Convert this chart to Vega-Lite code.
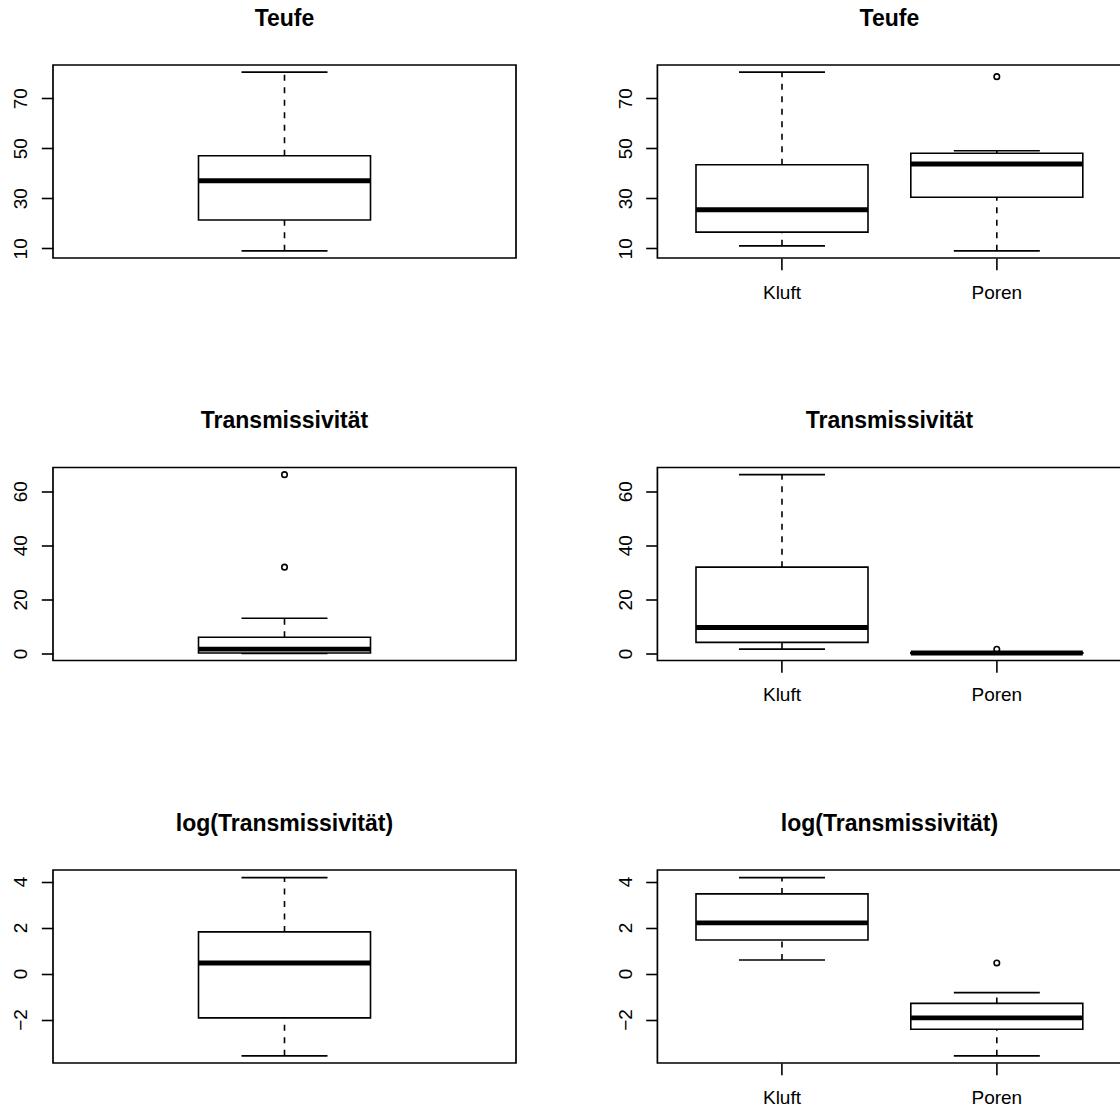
{
  "$schema": "https://vega.github.io/schema/vega-lite/v6.json",
  "background": "white",
  "padding": {"left": 10, "top": 6, "right": 5, "bottom": 5},
  "datasets": {
    "kennwerte": [
      {"groesse": "Teufe", "typ": "alle", "lo": 9, "q1": 21.3, "med": 37, "q3": 47, "hi": 80.4},
      {"groesse": "Teufe", "typ": "Kluft", "lo": 11, "q1": 16.5, "med": 25.4, "q3": 43.4, "hi": 80.4},
      {"groesse": "Teufe", "typ": "Poren", "lo": 9, "q1": 30.4, "med": 43.7, "q3": 48, "hi": 49},
      {"groesse": "T", "typ": "alle", "lo": 0.03, "q1": 0.14, "med": 1.6, "q3": 6.0, "hi": 13.0},
      {"groesse": "T", "typ": "Kluft", "lo": 1.6, "q1": 4.1, "med": 9.6, "q3": 31.9, "hi": 66.1},
      {"groesse": "T", "typ": "Poren", "lo": 0.03, "q1": 0.09, "med": 0.145, "q3": 0.27, "hi": 0.44},
      {"groesse": "logT", "typ": "alle", "lo": -3.58, "q1": -1.93, "med": 0.46, "q3": 1.81, "hi": 4.17},
      {"groesse": "logT", "typ": "Kluft", "lo": 0.59, "q1": 1.46, "med": 2.2, "q3": 3.46, "hi": 4.17},
      {"groesse": "logT", "typ": "Poren", "lo": -3.58, "q1": -2.42, "med": -1.93, "q3": -1.3, "hi": -0.83}
    ],
    "ausreisser": [
      {"groesse": "Teufe", "typ": "Poren", "wert": 78.6},
      {"groesse": "T", "typ": "alle", "wert": 31.9},
      {"groesse": "T", "typ": "alle", "wert": 66.1},
      {"groesse": "T", "typ": "Poren", "wert": 1.55},
      {"groesse": "logT", "typ": "Poren", "wert": 0.46}
    ]
  },
  "columns": 2,
  "bounds": "flush",
  "spacing": {"row": 209.5, "column": 141.4},
  "concat": [
    {
      "title": "Teufe",
      "width": 463, "height": 193,
      "data": {"name": "kennwerte"},
      "transform": [{"filter": "datum.groesse == 'Teufe' && datum.typ == 'alle'"}],
      "encoding": {"x": {"field": "typ", "type": "nominal", "axis": null, "scale": {"paddingInner": 0.2, "paddingOuter": 0.18}}},
      "layer": [
        {"mark": {"type": "rule", "color": "black", "strokeWidth": 1.6, "strokeDash": [6, 6.5]},
         "encoding": {"y": {"field": "q3", "type": "quantitative", "title": null,
            "scale": {"domain": [6.144, 83.256], "nice": false, "zero": false},
            "axis": {"values": [10, 20, 30, 40, 50, 60, 70, 80], "labelExpr": "datum.value % 20 == 10 ? datum.label : ''"}},
           "y2": {"field": "hi"}}},
        {"mark": {"type": "rule", "color": "black", "strokeWidth": 1.6, "strokeDash": [6, 6.5]},
         "encoding": {"y": {"field": "lo", "type": "quantitative", "title": null}, "y2": {"field": "q1"}}},
        {"mark": {"type": "tick", "color": "black", "opacity": 1, "size": 86, "thickness": 1.6},
         "encoding": {"y": {"field": "hi", "type": "quantitative", "title": null}}},
        {"mark": {"type": "tick", "color": "black", "opacity": 1, "size": 86, "thickness": 1.6},
         "encoding": {"y": {"field": "lo", "type": "quantitative", "title": null}}},
        {"mark": {"type": "bar", "width": 172, "fill": "white", "stroke": "black", "strokeWidth": 1.6},
         "encoding": {"y": {"field": "q1", "type": "quantitative", "title": null}, "y2": {"field": "q3"}}},
        {"mark": {"type": "tick", "color": "black", "opacity": 1, "size": 172, "thickness": 4.9},
         "encoding": {"y": {"field": "med", "type": "quantitative", "title": null}}}
      ]
    },
    {
      "title": "Teufe",
      "width": 464, "height": 193,
      "data": {"name": "kennwerte"},
      "transform": [{"filter": "datum.groesse == 'Teufe' && datum.typ != 'alle'"}],
      "encoding": {"x": {"field": "typ", "type": "nominal", "title": null, "scale": {"paddingInner": 0.2, "paddingOuter": 0.18},
        "axis": {"labelAngle": 0, "labelBaseline": "alphabetic", "labelPadding": 28.3}}},
      "layer": [
        {"mark": {"type": "rule", "color": "black", "strokeWidth": 1.6, "strokeDash": [6, 6.5]},
         "encoding": {"y": {"field": "q3", "type": "quantitative", "title": null,
            "scale": {"domain": [6.144, 83.256], "nice": false, "zero": false},
            "axis": {"values": [10, 20, 30, 40, 50, 60, 70, 80], "labelExpr": "datum.value % 20 == 10 ? datum.label : ''"}},
           "y2": {"field": "hi"}}},
        {"mark": {"type": "rule", "color": "black", "strokeWidth": 1.6, "strokeDash": [6, 6.5]},
         "encoding": {"y": {"field": "lo", "type": "quantitative", "title": null}, "y2": {"field": "q1"}}},
        {"mark": {"type": "tick", "color": "black", "opacity": 1, "size": 86, "thickness": 1.6},
         "encoding": {"y": {"field": "hi", "type": "quantitative", "title": null}}},
        {"mark": {"type": "tick", "color": "black", "opacity": 1, "size": 86, "thickness": 1.6},
         "encoding": {"y": {"field": "lo", "type": "quantitative", "title": null}}},
        {"mark": {"type": "bar", "width": 172, "fill": "white", "stroke": "black", "strokeWidth": 1.6},
         "encoding": {"y": {"field": "q1", "type": "quantitative", "title": null}, "y2": {"field": "q3"}}},
        {"mark": {"type": "tick", "color": "black", "opacity": 1, "size": 172, "thickness": 4.9},
         "encoding": {"y": {"field": "med", "type": "quantitative", "title": null}}},
        {"data": {"name": "ausreisser"},
         "transform": [{"filter": "datum.groesse == 'Teufe' && datum.typ != 'alle'"}],
         "mark": {"type": "point", "shape": "circle", "filled": false, "color": "black", "size": 30, "strokeWidth": 1.6, "opacity": 1},
         "encoding": {"y": {"field": "wert", "type": "quantitative", "title": null}}}
      ]
    },
    {
      "title": "Transmissivität",
      "width": 463, "height": 193,
      "data": {"name": "kennwerte"},
      "transform": [{"filter": "datum.groesse == 'T' && datum.typ == 'alle'"}],
      "encoding": {"x": {"field": "typ", "type": "nominal", "axis": null, "scale": {"paddingInner": 0.2, "paddingOuter": 0.18}}},
      "layer": [
        {"mark": {"type": "rule", "color": "black", "strokeWidth": 1.6, "strokeDash": [6, 6.5]},
         "encoding": {"y": {"field": "q3", "type": "quantitative", "title": null,
            "scale": {"domain": [-2.615, 68.74], "nice": false, "zero": false},
            "axis": {"values": [0, 10, 20, 30, 40, 50, 60], "labelExpr": "datum.value % 20 == 0 ? datum.label : ''"}},
           "y2": {"field": "hi"}}},
        {"mark": {"type": "rule", "color": "black", "strokeWidth": 1.6, "strokeDash": [6, 6.5]},
         "encoding": {"y": {"field": "lo", "type": "quantitative", "title": null}, "y2": {"field": "q1"}}},
        {"mark": {"type": "tick", "color": "black", "opacity": 1, "size": 86, "thickness": 1.6},
         "encoding": {"y": {"field": "hi", "type": "quantitative", "title": null}}},
        {"mark": {"type": "tick", "color": "black", "opacity": 1, "size": 86, "thickness": 1.6},
         "encoding": {"y": {"field": "lo", "type": "quantitative", "title": null}}},
        {"mark": {"type": "bar", "width": 172, "fill": "white", "stroke": "black", "strokeWidth": 1.6},
         "encoding": {"y": {"field": "q1", "type": "quantitative", "title": null}, "y2": {"field": "q3"}}},
        {"mark": {"type": "tick", "color": "black", "opacity": 1, "size": 172, "thickness": 4.9},
         "encoding": {"y": {"field": "med", "type": "quantitative", "title": null}}},
        {"data": {"name": "ausreisser"},
         "transform": [{"filter": "datum.groesse == 'T' && datum.typ == 'alle'"}],
         "mark": {"type": "point", "shape": "circle", "filled": false, "color": "black", "size": 30, "strokeWidth": 1.6, "opacity": 1},
         "encoding": {"y": {"field": "wert", "type": "quantitative", "title": null}}}
      ]
    },
    {
      "title": "Transmissivität",
      "width": 464, "height": 193,
      "data": {"name": "kennwerte"},
      "transform": [{"filter": "datum.groesse == 'T' && datum.typ != 'alle'"}],
      "encoding": {"x": {"field": "typ", "type": "nominal", "title": null, "scale": {"paddingInner": 0.2, "paddingOuter": 0.18},
        "axis": {"labelAngle": 0, "labelBaseline": "alphabetic", "labelPadding": 28.3}}},
      "layer": [
        {"mark": {"type": "rule", "color": "black", "strokeWidth": 1.6, "strokeDash": [6, 6.5]},
         "encoding": {"y": {"field": "q3", "type": "quantitative", "title": null,
            "scale": {"domain": [-2.615, 68.74], "nice": false, "zero": false},
            "axis": {"values": [0, 10, 20, 30, 40, 50, 60], "labelExpr": "datum.value % 20 == 0 ? datum.label : ''"}},
           "y2": {"field": "hi"}}},
        {"mark": {"type": "rule", "color": "black", "strokeWidth": 1.6, "strokeDash": [6, 6.5]},
         "encoding": {"y": {"field": "lo", "type": "quantitative", "title": null}, "y2": {"field": "q1"}}},
        {"mark": {"type": "tick", "color": "black", "opacity": 1, "size": 86, "thickness": 1.6},
         "encoding": {"y": {"field": "hi", "type": "quantitative", "title": null}}},
        {"mark": {"type": "tick", "color": "black", "opacity": 1, "size": 86, "thickness": 1.6},
         "encoding": {"y": {"field": "lo", "type": "quantitative", "title": null}}},
        {"mark": {"type": "bar", "width": 172, "fill": "white", "stroke": "black", "strokeWidth": 1.6},
         "encoding": {"y": {"field": "q1", "type": "quantitative", "title": null}, "y2": {"field": "q3"}}},
        {"mark": {"type": "tick", "color": "black", "opacity": 1, "size": 172, "thickness": 4.9},
         "encoding": {"y": {"field": "med", "type": "quantitative", "title": null}}},
        {"data": {"name": "ausreisser"},
         "transform": [{"filter": "datum.groesse == 'T' && datum.typ != 'alle'"}],
         "mark": {"type": "point", "shape": "circle", "filled": false, "color": "black", "size": 30, "strokeWidth": 1.6, "opacity": 1},
         "encoding": {"y": {"field": "wert", "type": "quantitative", "title": null}}}
      ]
    },
    {
      "title": "log(Transmissivität)",
      "width": 463, "height": 193,
      "data": {"name": "kennwerte"},
      "transform": [{"filter": "datum.groesse == 'logT' && datum.typ == 'alle'"}],
      "encoding": {"x": {"field": "typ", "type": "nominal", "axis": null, "scale": {"paddingInner": 0.2, "paddingOuter": 0.18}}},
      "layer": [
        {"mark": {"type": "rule", "color": "black", "strokeWidth": 1.6, "strokeDash": [6, 6.5]},
         "encoding": {"y": {"field": "q3", "type": "quantitative", "title": null,
            "scale": {"domain": [-3.89, 4.5], "nice": false, "zero": false},
            "axis": {"values": [-2, 0, 2, 4]}},
           "y2": {"field": "hi"}}},
        {"mark": {"type": "rule", "color": "black", "strokeWidth": 1.6, "strokeDash": [6, 6.5]},
         "encoding": {"y": {"field": "lo", "type": "quantitative", "title": null}, "y2": {"field": "q1"}}},
        {"mark": {"type": "tick", "color": "black", "opacity": 1, "size": 86, "thickness": 1.6},
         "encoding": {"y": {"field": "hi", "type": "quantitative", "title": null}}},
        {"mark": {"type": "tick", "color": "black", "opacity": 1, "size": 86, "thickness": 1.6},
         "encoding": {"y": {"field": "lo", "type": "quantitative", "title": null}}},
        {"mark": {"type": "bar", "width": 172, "fill": "white", "stroke": "black", "strokeWidth": 1.6},
         "encoding": {"y": {"field": "q1", "type": "quantitative", "title": null}, "y2": {"field": "q3"}}},
        {"mark": {"type": "tick", "color": "black", "opacity": 1, "size": 172, "thickness": 4.9},
         "encoding": {"y": {"field": "med", "type": "quantitative", "title": null}}}
      ]
    },
    {
      "title": "log(Transmissivität)",
      "width": 464, "height": 193,
      "data": {"name": "kennwerte"},
      "transform": [{"filter": "datum.groesse == 'logT' && datum.typ != 'alle'"}],
      "encoding": {"x": {"field": "typ", "type": "nominal", "title": null, "scale": {"paddingInner": 0.2, "paddingOuter": 0.18},
        "axis": {"labelAngle": 0, "labelBaseline": "alphabetic", "labelPadding": 28.3}}},
      "layer": [
        {"mark": {"type": "rule", "color": "black", "strokeWidth": 1.6, "strokeDash": [6, 6.5]},
         "encoding": {"y": {"field": "q3", "type": "quantitative", "title": null,
            "scale": {"domain": [-3.89, 4.5], "nice": false, "zero": false},
            "axis": {"values": [-2, 0, 2, 4]}},
           "y2": {"field": "hi"}}},
        {"mark": {"type": "rule", "color": "black", "strokeWidth": 1.6, "strokeDash": [6, 6.5]},
         "encoding": {"y": {"field": "lo", "type": "quantitative", "title": null}, "y2": {"field": "q1"}}},
        {"mark": {"type": "tick", "color": "black", "opacity": 1, "size": 86, "thickness": 1.6},
         "encoding": {"y": {"field": "hi", "type": "quantitative", "title": null}}},
        {"mark": {"type": "tick", "color": "black", "opacity": 1, "size": 86, "thickness": 1.6},
         "encoding": {"y": {"field": "lo", "type": "quantitative", "title": null}}},
        {"mark": {"type": "bar", "width": 172, "fill": "white", "stroke": "black", "strokeWidth": 1.6},
         "encoding": {"y": {"field": "q1", "type": "quantitative", "title": null}, "y2": {"field": "q3"}}},
        {"mark": {"type": "tick", "color": "black", "opacity": 1, "size": 172, "thickness": 4.9},
         "encoding": {"y": {"field": "med", "type": "quantitative", "title": null}}},
        {"data": {"name": "ausreisser"},
         "transform": [{"filter": "datum.groesse == 'logT' && datum.typ != 'alle'"}],
         "mark": {"type": "point", "shape": "circle", "filled": false, "color": "black", "size": 30, "strokeWidth": 1.6, "opacity": 1},
         "encoding": {"y": {"field": "wert", "type": "quantitative", "title": null}}}
      ]
    }
  ],
  "config": {
    "font": "Liberation Sans",
    "view": {"stroke": "black", "strokeWidth": 1.7, "fill": "white"},
    "axis": {
      "domain": false,
      "grid": false,
      "ticks": true,
      "tickColor": "black",
      "tickWidth": 1.6,
      "tickSize": 11.7,
      "labelColor": "black",
      "labelFont": "Liberation Sans",
      "labelFontSize": 19,
      "labelOverlap": false
    },
    "axisY": {
      "labelAngle": -90,
      "labelAlign": "center",
      "labelBaseline": "alphabetic",
      "labelPadding": 14.6,
      "labelFlush": false
    },
    "title": {
      "font": "Liberation Sans",
      "fontSize": 23,
      "fontWeight": "bold",
      "color": "black",
      "anchor": "middle",
      "frame": "group",
      "baseline": "alphabetic",
      "offset": 34.5
    }
  }
}
